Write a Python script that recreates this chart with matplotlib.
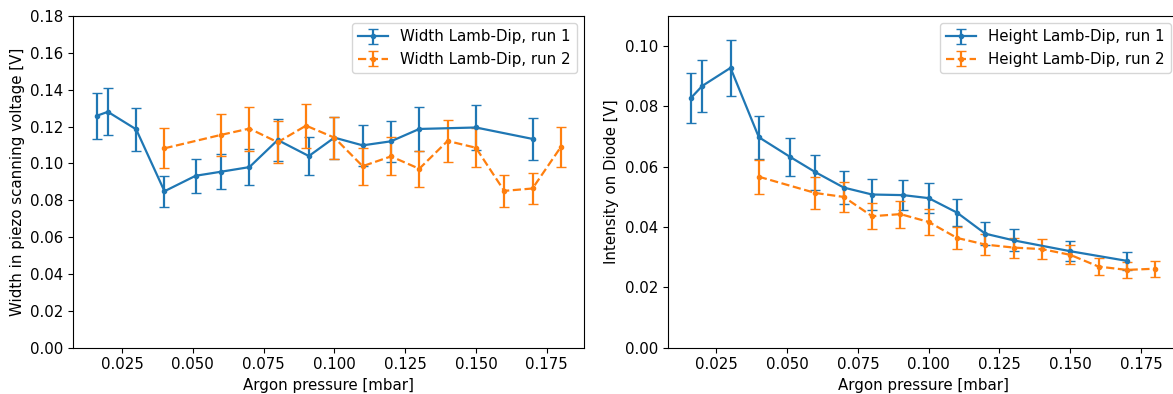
import matplotlib
matplotlib.use('Agg')
import matplotlib.pyplot as plt

# pressures [mbar]
p1 = [0.016, 0.020, 0.030, 0.040, 0.051, 0.060, 0.070, 0.080, 0.091, 0.100, 0.110, 0.120, 0.130, 0.150, 0.170]
p2 = [0.040, 0.060, 0.070, 0.080, 0.090, 0.100, 0.110, 0.120, 0.130, 0.140, 0.150, 0.160, 0.170, 0.180]

# width of the lamb dip [V]
w1 = [0.1258, 0.1280, 0.1185, 0.0849, 0.0933, 0.0955, 0.0980, 0.1127, 0.1040, 0.1140, 0.1098, 0.1120, 0.1187, 0.1195, 0.1133]
w1_err = [0.0126, 0.0128, 0.0118, 0.0085, 0.0093, 0.0095, 0.0098, 0.0115, 0.0104, 0.0114, 0.0110, 0.0112, 0.0119, 0.0120, 0.0114]
w2 = [0.1082, 0.1155, 0.1189, 0.1115, 0.1205, 0.1140, 0.0985, 0.1038, 0.0971, 0.1122, 0.1085, 0.0851, 0.0864, 0.1089]
w2_err = [0.0108, 0.0115, 0.0119, 0.0113, 0.0120, 0.0114, 0.0101, 0.0103, 0.0097, 0.0113, 0.0107, 0.0086, 0.0086, 0.0110]

# height of the lamb dip [V]
h1 = [0.0828, 0.0868, 0.0928, 0.0698, 0.0633, 0.0582, 0.0531, 0.0508, 0.0506, 0.0496, 0.0448, 0.0378, 0.0356, 0.0320, 0.0288]
h1_err = [0.0083, 0.0087, 0.0093, 0.0071, 0.0063, 0.0058, 0.0054, 0.0051, 0.0051, 0.0050, 0.0046, 0.0039, 0.0036, 0.0033, 0.0029]
h2 = [0.0567, 0.0513, 0.0500, 0.0436, 0.0443, 0.0417, 0.0364, 0.0342, 0.0332, 0.0327, 0.0308, 0.0269, 0.0258, 0.0262]
h2_err = [0.0057, 0.0052, 0.0050, 0.0044, 0.0045, 0.0042, 0.0037, 0.0034, 0.0033, 0.0033, 0.0032, 0.0027, 0.0026, 0.0026]

plt.rcParams['font.size'] = 10.8
plt.rcParams['lines.linewidth'] = 1.6

fig = plt.figure(figsize=(11.73, 3.94), dpi=100)
ax1 = fig.add_axes([0.0625, 0.1175, 0.4354, 0.8419])
ax2 = fig.add_axes([0.5692, 0.1175, 0.4354, 0.8419])

ax1.errorbar(p1, w1, yerr=w1_err, fmt='.-', capsize=3.3, label='Width Lamb-Dip, run 1')
ax1.errorbar(p2, w2, yerr=w2_err, fmt='.--', capsize=3.3, label='Width Lamb-Dip, run 2')
ax1.set_ylim(0, 0.18)
ax1.set_xlabel('Argon pressure [mbar]')
ax1.set_ylabel('Width in piezo scanning voltage [V]')
ax1.legend(loc='upper right')

ax2.errorbar(p1, h1, yerr=h1_err, fmt='.-', capsize=3.3, label='Height Lamb-Dip, run 1')
ax2.errorbar(p2, h2, yerr=h2_err, fmt='.--', capsize=3.3, label='Height Lamb-Dip, run 2')
ax2.set_ylim(0, 0.11)
ax2.set_xlabel('Argon pressure [mbar]')
ax2.set_ylabel('Intensity on Diode [V]')
ax2.legend(loc='upper right')

fig.savefig('out.png', dpi=100)
